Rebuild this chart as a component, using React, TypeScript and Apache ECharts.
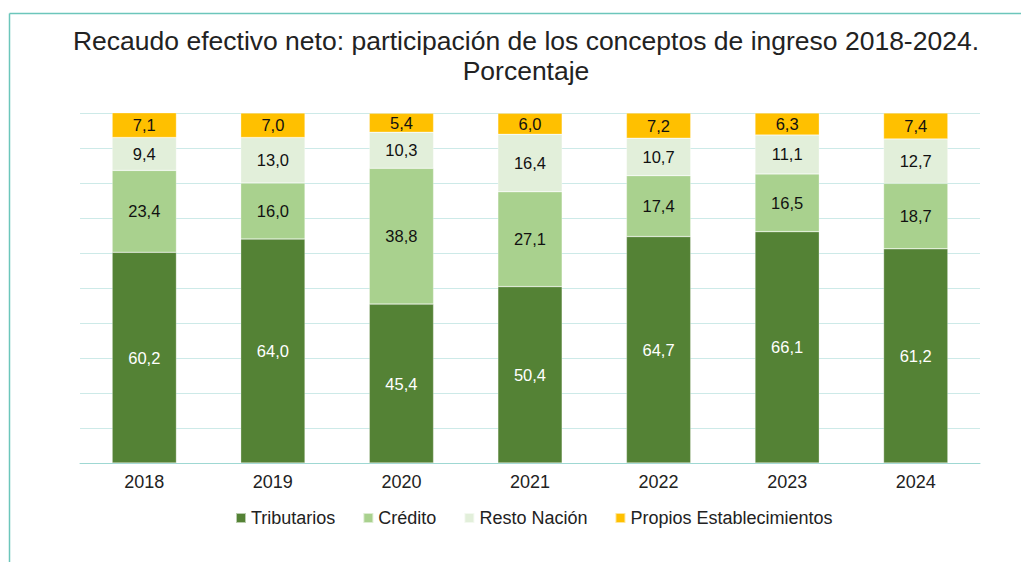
import React, { useEffect, useRef } from "react";
import * as echarts from "echarts";

const categories = ["2018", "2019", "2020", "2021", "2022", "2023", "2024"];
const tributarios = [60.2, 64.0, 45.4, 50.4, 64.7, 66.1, 61.2];
const credito = [23.4, 16.0, 38.8, 27.1, 17.4, 16.5, 18.7];
const restoNacion = [9.4, 13.0, 10.3, 16.4, 10.7, 11.1, 12.7];
const propios = [7.1, 7.0, 5.4, 6.0, 7.2, 6.3, 7.4];

const fmt = (v: number) => v.toFixed(1).replace(".", ",");

export default function App() {
  const ref = useRef<HTMLDivElement>(null);
  useEffect(() => {
    document.body.style.margin = "0";
    const chart = echarts.init(ref.current!, null, { renderer: "svg" });
    const font = "Liberation Sans, Arial, sans-serif";
    const mk = (name: string, data: number[], color: string, labelColor: string) => ({
      name,
      type: "bar",
      stack: "total",
      data,
      barWidth: "50%",
      itemStyle: { color, borderColor: "rgba(255,255,255,0.6)", borderWidth: 0.5 },
      label: {
        show: true,
        position: "inside",
        color: labelColor,
        fontSize: 16.5,
        fontFamily: font,
        formatter: (p: any) => fmt(p.value),
      },
    });
    chart.setOption({
      animation: false,
      title: {
        text: "Recaudo efectivo neto: participación de los conceptos de ingreso 2018-2024.\nPorcentaje",
        left: 521,
        top: 21,
        textAlign: "center",
        textStyle: {
          fontFamily: font,
          fontSize: 26.5,
          fontWeight: "normal",
          color: "#222",
          lineHeight: 30,
        },
      },
      grid: { left: 80, right: 41, top: 113, bottom: 99 },
      legend: {
        top: 504,
        left: 230,
        orient: "horizontal",
        itemWidth: 10,
        itemHeight: 10,
        itemGap: 27,
        textStyle: { fontFamily: font, fontSize: 18, color: "#222" },
        icon: "rect",
        data: ["Tributarios", "Crédito", "Resto Nación", "Propios Establecimientos"],
      },
      xAxis: {
        type: "category",
        data: categories,
        axisTick: { show: false },
        axisLine: { lineStyle: { color: "#9fd8d3", width: 1 } },
        axisLabel: { fontFamily: font, fontSize: 18, color: "#222", margin: 10 },
      },
      yAxis: {
        type: "value",
        min: 0,
        max: 100,
        interval: 10,
        axisLabel: { show: false },
        splitLine: { lineStyle: { color: "#cdeae8", width: 1 } },
      },
      graphic: [
        {
          type: "line",
          shape: { x1: 9.5, y1: 13.5, x2: 1021, y2: 13.5 },
          style: { stroke: "#6cc6bb", lineWidth: 1.5 },
        },
        {
          type: "line",
          shape: { x1: 9.5, y1: 13.5, x2: 9.5, y2: 562 },
          style: { stroke: "#6cc6bb", lineWidth: 1.5 },
        },
      ],
      series: [
        mk("Tributarios", tributarios, "#548235", "#ffffff"),
        mk("Crédito", credito, "#a9d18e", "#111"),
        mk("Resto Nación", restoNacion, "#e2efda", "#111"),
        mk("Propios Establecimientos", propios, "#ffc000", "#111"),
      ],
    });
    return () => chart.dispose();
  }, []);
  return <div ref={ref} style={{ width: 1021, height: 562 }} />;
}
